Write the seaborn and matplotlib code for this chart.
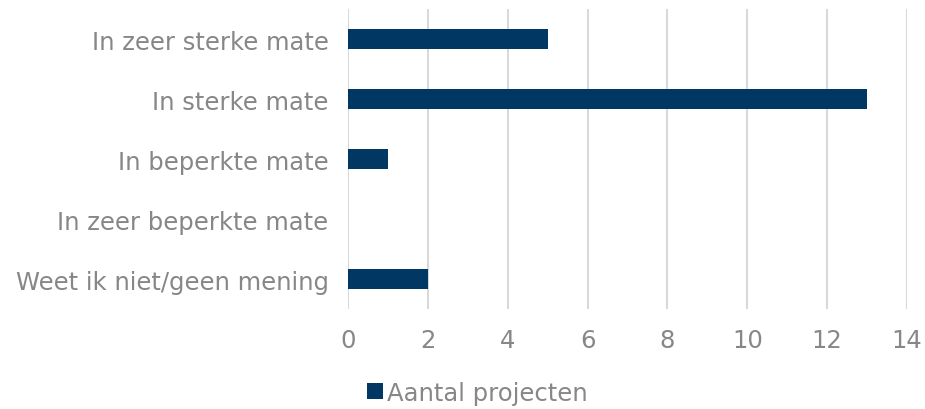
import matplotlib
matplotlib.use("Agg")
import matplotlib.pyplot as plt
import seaborn as sns
import pandas as pd
from matplotlib.patches import Patch

categories = ["In zeer sterke mate", "In sterke mate", "In beperkte mate",
              "In zeer beperkte mate", "Weet ik niet/geen mening"]
values = [5, 13, 1, 0, 2]
series_name = "Aantal projecten"
x_ticks = [0, 2, 4, 6, 8, 10, 12, 14]

sns.set_theme(style="white")
plt.rcParams['font.family'] = ['DejaVu Sans']

bar_color = "#003763"
text_color = "#878787"
fs = 17.5

df = pd.DataFrame({"cat": categories, "val": values})

fig = plt.figure(figsize=(9.25, 4.1), dpi=100)
ax = fig.add_axes([0.3762, 0.2439, 0.6043, 0.7317])
sns.barplot(data=df, x="val", y="cat", orient="h", color=bar_color,
            width=0.33, ax=ax, saturation=1, linewidth=0)

ax.set_xlim(0, 14)
ax.set_ylim(4.5, -0.5)
ax.set_xticks(x_ticks)
ax.set_xticklabels([str(t) for t in x_ticks])
ax.xaxis.grid(True, color="#d9d9d9", linewidth=1.5)
ax.yaxis.grid(False)
ax.set_axisbelow(True)
for s in ax.spines.values():
    s.set_visible(False)
ax.set_xlabel("")
ax.set_ylabel("")
ax.tick_params(axis="both", length=0, colors=text_color, labelsize=fs)
ax.tick_params(axis="x", pad=14)
ax.tick_params(axis="y", pad=14)

handles = [Patch(facecolor=bar_color, edgecolor="none", label=series_name)]
fig.legend(handles=handles, loc="center", bbox_to_anchor=(0.516, 0.04),
           frameon=False, fontsize=fs, labelcolor=text_color,
           handlelength=0.65, handleheight=0.65, handletextpad=0.15)

fig.savefig("out.png", dpi=100)
